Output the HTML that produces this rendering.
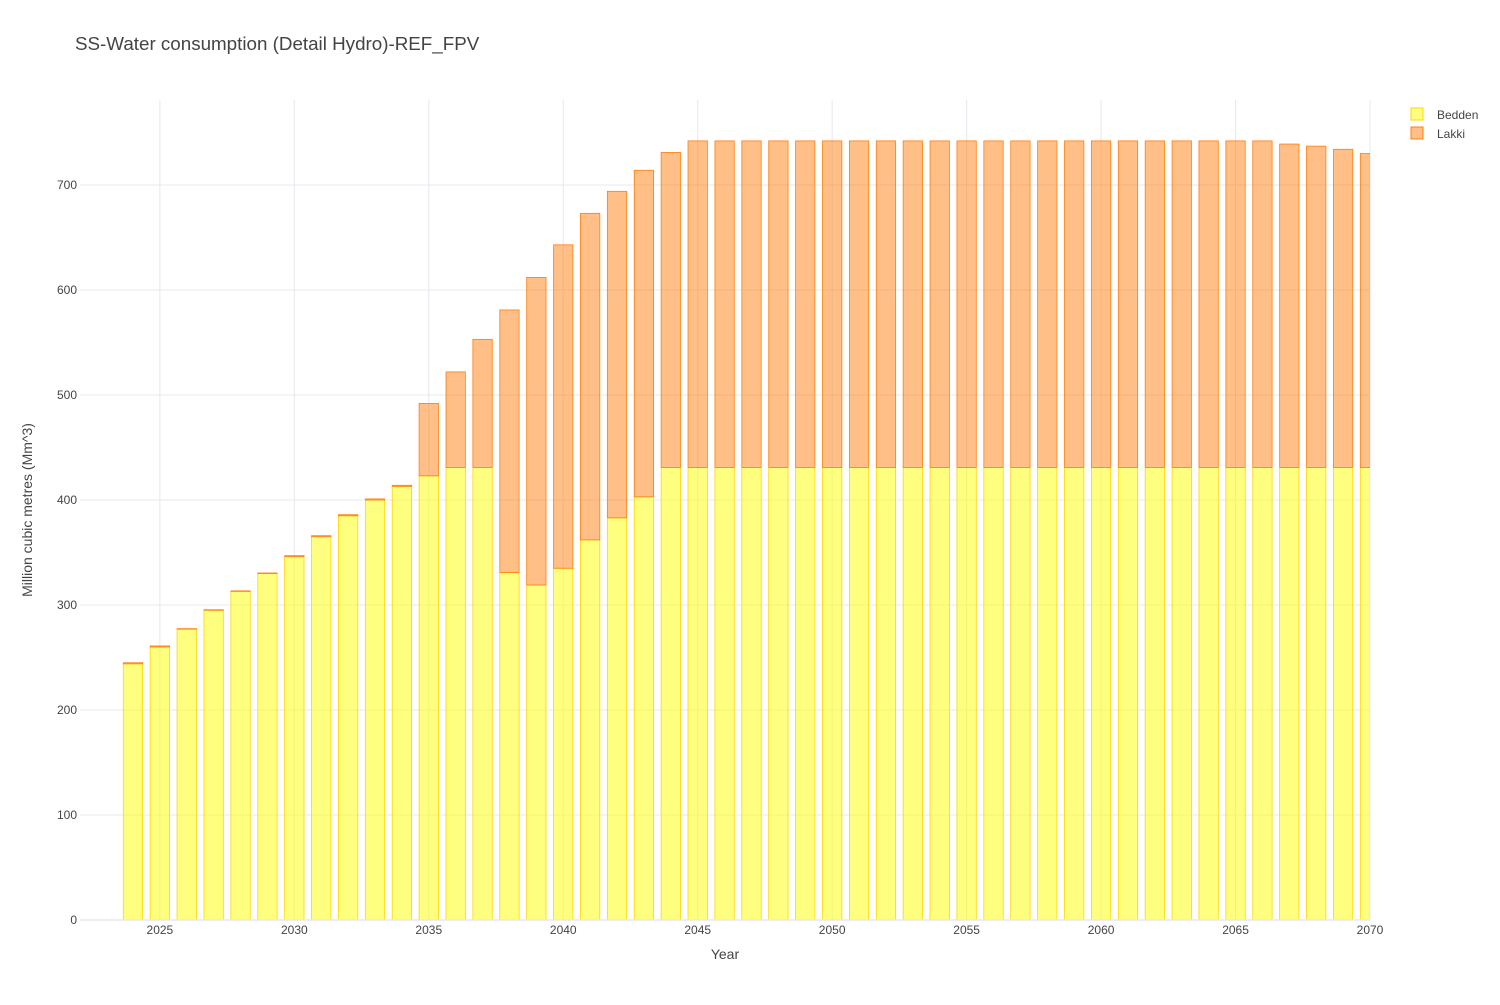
<!DOCTYPE html>
<html><head><meta charset="utf-8"><style>
body{margin:0;background:#fff;font-family:"Liberation Sans",sans-serif;}
svg text{font-family:"Liberation Sans",sans-serif;}
</style></head><body>
<svg id="chart" width="1500" height="1000">
<text x="75" y="50" font-size="18.8" fill="#444">SS-Water consumption (Detail Hydro)-REF_FPV</text>
<g id="grid"></g><g id="bars"></g><g id="axes"></g>
<text x="725" y="959" font-size="14" fill="#444" text-anchor="middle">Year</text>
<text transform="translate(32,510) rotate(-90)" font-size="14" fill="#444" text-anchor="middle">Million cubic metres (Mm^3)</text>
<g>
<g><rect x="1411" y="108" width="12" height="12" fill="rgba(255,255,0,0.5)" stroke="#ffd700"/><text x="1437" y="119" font-size="12" fill="#444">Bedden</text></g>
<g><rect x="1411" y="127" width="12" height="12" fill="rgba(255,127,14,0.5)" stroke="#ff7f0e"/><text x="1437" y="138" font-size="12" fill="#444">Lakki</text></g>
</g>
</svg>
<script>
const years=[];for(let y=2024;y<=2070;y++)years.push(y);
const bedden=[244,260,277,295,313,330,346,365,385,400,413,423,431,431,331,319,335,362,383,403,431,431,431,431,431,431,431,431,431,431,431,431,431,431,431,431,431,431,431,431,431,431,431,431,431,431,431];
const lakki=[1,1,0.5,0.5,0.5,0.5,1,1,1,1,1,69,91,122,250,293,308,311,311,311,300,311,311,311,311,311,311,311,311,311,311,311,311,311,311,311,311,311,311,311,311,311,311,308,306,303,299];
const xTicks=[2025,2030,2035,2040,2045,2050,2055,2060,2065,2070];
const yTicks=[0,100,200,300,400,500,600,700];
const L=80,R=1370,T=100,B=920;
const x0=2022.03,x1=2070;
const xs=v=>L+(v-x0)/(x1-x0)*(R-L);
const ys=v=>B-v*1.05;
const NS="http://www.w3.org/2000/svg";
function mk(t,a,p){const e=document.createElementNS(NS,t);for(const k in a)e.setAttribute(k,a[k]);p.appendChild(e);return e;}
const grid=document.getElementById('grid'),bars=document.getElementById('bars'),axes=document.getElementById('axes');
yTicks.forEach(v=>{
 if(v>0){const l=mk('line',{x1:L,x2:R,y1:ys(v),y2:ys(v),stroke:'#e5e8ef'},grid);
 
 }
 const t=mk('text',{x:L-3,y:ys(v)+4,'font-size':12,fill:'#444','text-anchor':'end'},axes);t.textContent=v;
 
 
});
xTicks.forEach(v=>{
 const l=mk('line',{x1:xs(v),x2:xs(v),y1:T,y2:B,stroke:'#e5e8ef'},grid);
 
 
 const t=mk('text',{x:xs(v),y:B+14,'font-size':12,fill:'#444','text-anchor':'middle'},axes);t.textContent=v;
 
 
});
const zl=mk('line',{x1:L,x2:R,y1:B,y2:B,stroke:'#e5e8ef','stroke-width':1.5},axes);


const bw=0.72*(R-L)/(x1-x0);
const clip=mk('clipPath',{id:'pc'},bars);mk('rect',{x:L,y:0,width:R-L,height:B},clip);
bars.setAttribute('clip-path','url(#pc)');
years.forEach((yr,i)=>{
 const cx=xs(yr);
 const b=mk('rect',{x:cx-bw/2,y:ys(bedden[i]),width:bw,height:B-ys(bedden[i]),fill:'rgba(255,255,0,0.5)',stroke:'#ffd700','stroke-width':0.8},bars);
 
 
 const top=bedden[i]+lakki[i];
 const k=mk('rect',{x:cx-bw/2,y:ys(top),width:bw,height:ys(bedden[i])-ys(top),fill:'rgba(255,127,14,0.5)',stroke:'#ff7f0e','stroke-width':0.8},bars);
 
 
});
</script>
</body></html>
